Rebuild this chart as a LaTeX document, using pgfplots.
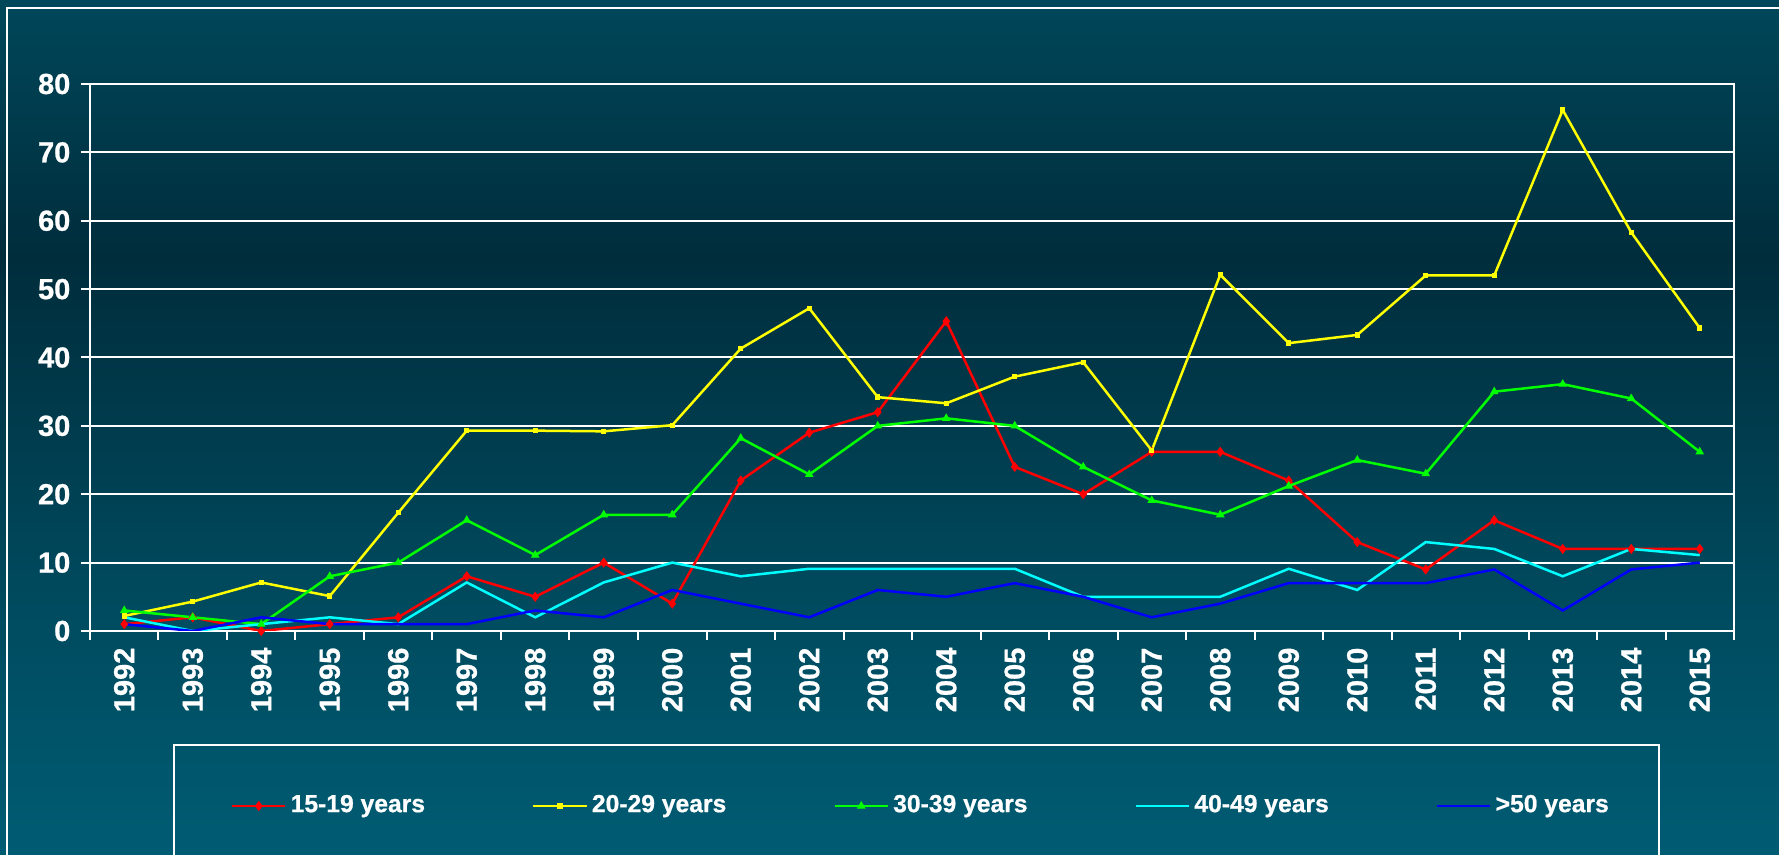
\documentclass[border=0pt]{standalone}
\usepackage{fontspec}
\setmainfont{Liberation Sans}[BoldFeatures={FakeBold=0.8}]
\usepackage{pgfplots}
\pgfplotsset{compat=1.18}

% slide background, darkest a third of the way down
\definecolor{bgtop}{HTML}{00475A}
\definecolor{bgdark}{HTML}{002D3C}
\definecolor{bgmid}{HTML}{004A5E}
\definecolor{bgbot}{HTML}{005C73}
\pgfdeclareverticalshading{slidebg}{100bp}{color(0bp)=(bgbot); color(25bp)=(bgbot); color(40bp)=(bgmid); color(60bp)=(bgdark); color(75bp)=(bgtop); color(100bp)=(bgtop)}

\definecolor{cRed}{HTML}{FF0000}
\definecolor{cYellow}{HTML}{FFFF00}
\definecolor{cGreen}{HTML}{00FF00}
\definecolor{cCyan}{HTML}{00FFFF}
\definecolor{cBlue}{HTML}{0000FF}

\begin{document}
\begin{tikzpicture}
\useasboundingbox (0,0) rectangle (533.7pt,256.5pt);
\shade[shading=slidebg] (0,0) rectangle (533.7pt,256.5pt);
% outer frame (right and bottom sides fall outside the picture)
\draw[white, line width=0.6pt] (2.1pt,-5pt) -- (2.1pt,254.1pt) -- (540pt,254.1pt);
% legend box
\draw[white, line width=0.6pt] (52.2pt,-5pt) -- (52.2pt,33pt) -- (497.7pt,33pt) -- (497.7pt,-5pt);

\begin{axis}[
    at={(27pt,67.2pt)}, anchor=south west,
    scale only axis,
    width=493.2pt, height=164.1pt,
    xmin=-0.5, xmax=23.5,
    ymin=0, ymax=80,
    xtick={0,...,23},
    xticklabels={1992,1993,1994,1995,1996,1997,1998,1999,2000,2001,2002,2003,
                 2004,2005,2006,2007,2008,2009,2010,2011,2012,2013,2014,2015},
    ytick={0,10,...,80},
    minor xtick={-0.5,0.5,...,23.5},
    minor ytick={0,10,...,80},
    major tick length=0pt,
    minor tick length=2.7pt,
    tick align=outside,
    xtick pos=bottom, ytick pos=left,
    axis line style={white, line width=0.6pt},
    tick style={white, line width=0.6pt},
    ymajorgrids,
    grid style={white, line width=0.6pt},
    ticklabel style={font=\bfseries\fontsize{8.7}{10}\selectfont, text=white},
    yticklabel style={inner sep=0pt, xshift=-5.7pt},
    xticklabel style={rotate=90, anchor=east, inner xsep=4.8pt, inner ysep=0pt},
    /pgf/number format/assume math mode=true,
    legend columns=5,
    legend style={at={(0.506,-0.320)}, anchor=center, draw=none, fill=none,
        font=\bfseries\fontsize{7.4}{9}\selectfont, text=white,
        nodes={inner sep=1.2pt},
        /tikz/every even column/.append style={column sep=30.9pt}},
    legend image code/.code={\draw[mark repeat=2, mark phase=2, #1]
        plot coordinates {(0pt,0pt) (8pt,0pt) (16pt,0pt)};},
    every axis plot/.append style={line width=0.75pt},
]
\addplot[cRed, mark=diamond*, mark size=1.3pt, mark options={line width=0.3pt}] coordinates {
    (0,1) (1,2) (2,0) (3,1) (4,2) (5,8) (6,5) (7,10) (8,4) (9,22) (10,29) (11,32)
    (12,45.3) (13,24) (14,20) (15,26.2) (16,26.2) (17,22) (18,13) (19,9) (20,16.2) (21,12) (22,12) (23,12)
};
\addplot[cYellow, mark=square*, mark size=0.65pt, mark options={line width=0.3pt}] coordinates {
    (0,2.2) (1,4.3) (2,7.1) (3,5.1) (4,17.3) (5,29.3) (6,29.3) (7,29.2) (8,30.1) (9,41.3) (10,47.2) (11,34.2)
    (12,33.3) (13,37.2) (14,39.3) (15,26.4) (16,52.1) (17,42.1) (18,43.3) (19,52) (20,52) (21,76.2) (22,58.3) (23,44.3)
};
\addplot[cGreen, mark=triangle*, mark size=1.2pt, mark options={line width=0.3pt}] coordinates {
    (0,3) (1,2) (2,1) (3,8) (4,10) (5,16.2) (6,11.1) (7,17) (8,17) (9,28.2) (10,22.9) (11,30)
    (12,31.1) (13,30) (14,24) (15,19.1) (16,17) (17,21.2) (18,25) (19,23) (20,35) (21,36.1) (22,34) (23,26.2)
};
\addplot[cCyan, mark=none] coordinates {
    (0,2) (1,0) (2,1) (3,2) (4,1) (5,7.1) (6,2) (7,7.1) (8,10) (9,8) (10,9.1) (11,9.1)
    (12,9.1) (13,9.1) (14,5) (15,5) (16,5) (17,9.1) (18,6) (19,13) (20,12) (21,8) (22,12) (23,11.1)
};
\addplot[cBlue, mark=none] coordinates {
    (0,1) (1,0) (2,2) (3,1) (4,1) (5,1) (6,3) (7,2) (8,6) (9,4) (10,2) (11,6)
    (12,5) (13,7) (14,5) (15,2) (16,4) (17,7) (18,7) (19,7) (20,9) (21,3) (22,9) (23,10)
};
\legend{15-19 years, 20-29 years, 30-39 years, 40-49 years, >50 years}
\end{axis}
\end{tikzpicture}
\end{document}
